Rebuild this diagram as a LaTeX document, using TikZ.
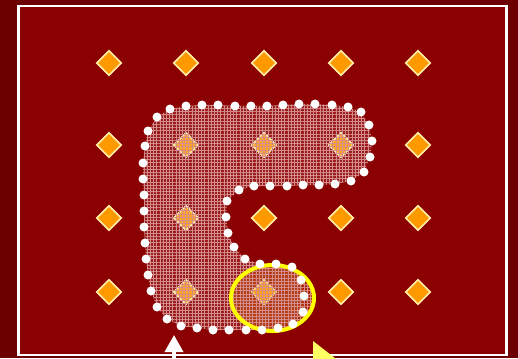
\documentclass[tikz,border=0pt]{standalone}
\usepackage{tikz}
\definecolor{slidered}{RGB}{139,0,0}
\definecolor{slidedark}{RGB}{108,0,0}
\definecolor{gemorange}{RGB}{255,153,0}
\definecolor{gemedge}{RGB}{255,240,170}
\definecolor{ringyellow}{RGB}{255,255,0}
\definecolor{tipyellow}{RGB}{255,255,100}
\definecolor{plaid}{RGB}{212,140,140}
\usetikzlibrary{arrows.meta,shapes.geometric,patterns.meta}
\tikzset{
  gem/.style={diamond, fill=gemorange, draw=gemedge, line width=1.6pt, minimum width=25pt, minimum height=25pt, inner sep=0pt},
  hatched/.style={pattern={Hatch[distance=3.2pt,angle=0,line width=0.7pt]}, pattern color=plaid},
}
% points of the dotted rim
\newcommand{\rimpoints}{(170,109),(186,106),(202,105),(218,105),(235,106),(251,106),(267,106),(283,105),(299,104),(315,104),(332,105),(348,107),(361,112),(369,125),(372,141),(370,157),(364,172),(351,181),(335,184),(319,185),(303,185),(287,186),(270,186),(254,186),(239,190),(227,201),(226,217),(228,233),(234,247),(245,259),(260,264),(276,264),(292,267),(301,280),(304,296),(303,312),(293,324),(278,328),(262,330),(246,330),(229,330),(213,330),(197,328),(181,326),(167,319),(157,307),(151,291),(148,275),(146,259),(145,243),(144,227),(144,211),(144,195),(143,179),(143,163),(145,146),(148,131),(157,117)}

\begin{document}
\begin{tikzpicture}[x=1pt,y=-1pt]
  \useasboundingbox (0,0) rectangle (518,358);

  % slide background and frame
  \fill[slidedark] (0,0) rectangle (518,358);
  \fill[slidered] (18.5,6) rectangle (506.5,355);
  \draw[white, line width=2.5pt] (18.5,6) rectangle (506.5,355);

  % grid of diamonds
  \foreach \r/\y in {1/63,2/145,3/218,4/292}
    \foreach \c/\x in {1/109,2/186,3/264,4/341,5/418}
      \node[gem] (g\r\c) at (\x,\y) {};

  % hatched region
  \fill[white, fill opacity=0.12] (157,117) \foreach \p in \rimpoints {-- \p} -- cycle;
  \path[hatched] (157,117) \foreach \p in \rimpoints {-- \p} -- cycle;

  % highlighted cell
  \node[ellipse, draw=ringyellow, line width=4pt, minimum width=83pt, minimum height=66pt,
        preaction={fill=gemorange, fill opacity=0.25}, hatched] (focus) at (272.5,298) {};

  % dotted rim
  \foreach \p in \rimpoints
    \fill[white] \p circle (4.5pt);

  % pointers at the bottom
  \coordinate (up-base) at (174,362);
  \coordinate (up-tip) at (174,335);
  \draw[white, line width=3.5pt, -{Triangle[width=18pt,length=17pt]}] (up-base) -- (up-tip);
  \fill[tipyellow] (313,341) -- (340,362) -- (313,362) -- cycle;
\end{tikzpicture}
\end{document}
